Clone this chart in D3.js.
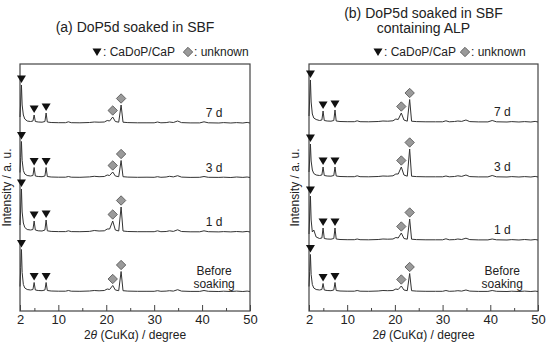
<!DOCTYPE html>
<html>
<head>
<meta charset="utf-8">
<script src="https://cdn.jsdelivr.net/npm/d3@7"></script>
<style>
  body { margin: 0; background: #fff; }
  text { font-family: "Liberation Sans", Arial, sans-serif; fill: #222; }
</style>
</head>
<body>
<div id="canvas"></div>
<script>
// 2theta grid shared by every pattern (degrees)
var twoTheta = [2.0, 2.15, 2.3, 2.45, 2.7, 3.0, 3.5, 4.2, 4.7, 4.95,
  5.2, 5.8, 6.6, 7.2, 7.45, 7.7, 8.5, 10.0, 11.5, 12.1,
  12.7, 14.5, 16.5, 17.5, 18.5, 19.6, 20.2, 20.7, 21.35, 21.9,
  22.6, 23.1, 23.5, 24.5, 26.5, 28.5, 30.0, 30.7, 31.4, 32.5,
  33.2, 34.0, 34.9, 35.7, 37.5, 39.5, 40.4, 41.3, 43.5, 44.5,
  46.0, 47.2, 48.5, 49.4, 50.0];

var samples = ['7 d', '3 d', '1 d', 'Before soaking'];

// vertical offsets of the stacked patterns (a. u.)
var offsetsA = [188, 133.5, 79, 19.5];
var offsetsB = [189, 134, 71, 19.5];

// (a) DoP5d soaked in SBF
var sbf7d = [6, 22, 38, 18, 8, 4, 2, 1.5, 2, 8,
  1.5, 1, 0.8, 1.5, 10, 1, 0.5, 0.3, 0.3, 1.2,
  0.3, 0.2, 0.5, 1, 0.8, 1, 2.5, 2, 6, 1.5,
  0.8, 18, 0.8, 0.4, 0.2, 0.2, 0.2, 1, 0.2, 0.4,
  1, 0.5, 2, 0.4, 0.1, 0.1, 1.2, 0.2, 0, 0.4,
  0, 0.4, 0, 0.6, 0];
var sbf3d = [5, 20, 36, 17, 7, 3.5, 2, 1.5, 2, 10,
  1.5, 1, 0.8, 1.5, 10, 1, 0.5, 0.3, 0.3, 1,
  0.3, 0.2, 0.6, 1.2, 0.8, 1, 2.5, 2, 5.5, 1.5,
  0.8, 17, 0.8, 0.4, 0.2, 0.3, 0.2, 0.8, 0.2, 0.5,
  1.2, 0.6, 1.8, 0.4, 0.1, 0.2, 1, 0.2, 0.1, 0.3,
  0, 0.5, 0.1, 0.5, 0];
var sbf1d = [7, 25, 43, 20, 9, 4.5, 2.5, 2, 2.5, 11,
  2, 1.2, 1, 2, 12, 1.2, 0.6, 0.4, 0.4, 1.2,
  0.4, 0.3, 0.6, 1.5, 1, 1.2, 3, 3, 11, 2,
  1, 25, 1, 0.5, 0.3, 0.3, 0.3, 1.2, 0.3, 0.5,
  1.2, 0.6, 2.2, 0.5, 0.2, 0.2, 1.2, 0.3, 0.1, 0.4,
  0.1, 0.5, 0.1, 0.6, 0];
var sbf0d = [5, 24, 42, 19, 7, 3.5, 2, 1.5, 2, 9,
  1.5, 1, 0.8, 1.5, 9, 1, 0.5, 0.3, 0.3, 1,
  0.3, 0.2, 0.5, 1, 0.7, 1, 2.5, 2, 6, 1.5,
  0.8, 20, 0.8, 0.4, 0.2, 0.2, 0.2, 0.8, 0.2, 0.4,
  0.8, 0.4, 1.8, 0.4, 0.1, 0.1, 1, 0.2, 0, 0.3,
  0, 0.4, 0, 0.4, 0];

// (b) DoP5d soaked in SBF containing ALP
var alp7d = [6, 24, 42, 20, 8, 4, 2.5, 1.5, 2, 11,
  1.5, 1, 0.8, 1.5, 12, 1, 0.5, 0.3, 0.3, 1.2,
  0.3, 0.2, 0.5, 1, 0.8, 1.2, 3, 2.5, 9, 2,
  0.8, 22.5, 0.8, 0.4, 0.2, 0.2, 0.2, 1.2, 0.2, 0.5,
  1, 0.6, 2, 0.4, 0.1, 0.1, 1.5, 0.2, 0, 0.4,
  0, 0.4, 0, 0.6, 0];
var alp3d = [5, 18, 33, 16, 7, 3.5, 2, 1.5, 2, 10,
  1.5, 1, 0.8, 1.5, 10, 1, 0.5, 0.3, 0.3, 1.2,
  0.3, 0.2, 0.5, 1, 0.8, 1.2, 3, 3, 10, 2,
  0.8, 28, 0.8, 0.4, 0.2, 0.2, 0.2, 1, 0.2, 0.5,
  1.2, 0.6, 2, 0.4, 0.1, 0.1, 1.5, 0.2, 0, 0.4,
  0, 0.4, 0, 0.6, 0];
var alp1d = [6, 25, 44, 20, 8, 10, 3, 1.5, 2, 12,
  1.5, 1, 0.8, 1.5, 12, 1, 0.5, 0.3, 0.3, 1,
  0.3, 0.2, 0.5, 1, 0.8, 1, 2.5, 2, 7, 1.5,
  0.8, 21, 0.8, 0.4, 0.2, 0.2, 0.2, 1.2, 0.2, 0.4,
  1, 0.5, 1.8, 0.4, 0.1, 0.1, 1, 0.2, 0, 0.4,
  0, 0.5, 0, 0.5, 0];
var alp0d = [5, 20, 37, 17, 7, 3.5, 2, 1.5, 2, 8,
  1.5, 1, 0.8, 1.5, 9, 1, 0.5, 0.3, 0.3, 1,
  0.3, 0.2, 0.5, 1, 0.8, 1, 2.5, 2, 5.5, 1.5,
  0.8, 18, 0.8, 0.4, 0.2, 0.2, 0.2, 1, 0.2, 0.4,
  0.8, 0.4, 1.5, 0.4, 0.1, 0.1, 1, 0.2, 0, 0.3,
  0, 0.4, 0, 0.4, 0];

// peak assignments (2theta)
var cadopPeaks = [2.3, 4.95, 7.45];
var unknownPeaks = [21.35, 23.1];

var xTicks = [2, 10, 20, 30, 40, 50];
var xMinorTicks = [5, 15, 25, 35, 45];

var W = 550, H = 346;
var svg = d3.select('#canvas').append('svg')
  .attr('width', W).attr('height', H);

var panels = [
  {left: 20, right: 250, title: ['(a) DoP5d soaked in SBF'], titleY: [32],
   series: [sbf7d, sbf3d, sbf1d, sbf0d], offsets: offsetsA, ylabX: 11,
   leg: {tri: 97, t1: 103, dia: 188, t2: 194}},
  {left: 309, right: 538, title: ['(b) DoP5d soaked in SBF', 'containing ALP'], titleY: [18, 33],
   series: [alp7d, alp3d, alp1d, alp0d], offsets: offsetsB, ylabX: 299,
   leg: {tri: 378, t1: 384, dia: 465, t2: 471}}
];

var plotTop = 64, plotBottom = 311;
var triPath = 'M-4.5,-7.5L4.5,-7.5L0,0Z';
var diamond = d3.symbol(d3.symbolSquare, 44)();

panels.forEach(function(p) {
  var x = d3.scaleLinear().domain([2, 50]).range([p.left, p.right]);
  var y = d3.scaleLinear().domain([0, 247]).range([plotBottom, plotTop]);
  var g = svg.append('g');

  // titles
  p.title.forEach(function(t, i) {
    g.append('text').attr('x', (p.left + p.right) / 2).attr('y', p.titleY[i])
      .attr('text-anchor', 'middle').style('font-size', '14px').text(t);
  });

  // legend
  var ly = 52;
  g.append('path').attr('d', triPath).attr('transform', 'translate(' + p.leg.tri + ',' + (ly + 4) + ')')
    .attr('fill', '#111');
  g.append('text').attr('x', p.leg.t1).attr('y', ly + 4).style('font-size', '12px').text(': CaDoP/CaP');
  g.append('path').attr('d', diamond)
    .attr('transform', 'translate(' + p.leg.dia + ',' + ly + ') rotate(45)')
    .attr('fill', '#9a9a9a').attr('stroke', '#555').attr('stroke-width', 0.8);
  g.append('text').attr('x', p.leg.t2).attr('y', ly + 4).style('font-size', '12px').text(': unknown');

  // frame
  g.append('rect').attr('x', p.left).attr('y', plotTop)
    .attr('width', p.right - p.left).attr('height', plotBottom - plotTop)
    .attr('fill', 'none').attr('stroke', '#444').attr('stroke-width', 1.2);

  // x axis (ticks pointing inward)
  var ax = g.append('g').attr('transform', 'translate(0,' + plotBottom + ')')
    .call(d3.axisBottom(x).tickValues(xTicks).tickSizeInner(-6).tickSizeOuter(0).tickPadding(4));
  ax.select('.domain').remove();
  ax.selectAll('line').attr('stroke', '#444');
  ax.selectAll('text').style('font-size', '13px').style('font-family', '"Liberation Sans", Arial, sans-serif').attr('fill', '#222');
  var axm = g.append('g').attr('transform', 'translate(0,' + plotBottom + ')')
    .call(d3.axisBottom(x).tickValues(xMinorTicks).tickSizeInner(-3).tickSizeOuter(0).tickFormat(''));
  axm.select('.domain').remove();
  axm.selectAll('line').attr('stroke', '#444');

  // axis titles
  var xl = g.append('text').attr('x', (p.left + p.right) / 2).attr('y', 339)
    .attr('text-anchor', 'middle').style('font-size', '12px');
  xl.append('tspan').text('2');
  xl.append('tspan').style('font-style', 'italic').text('\u03b8');
  xl.append('tspan').text(' (CuK\u03b1) / degree');

  g.append('text').attr('transform', 'translate(' + p.ylabX + ',' + ((plotTop + plotBottom) / 2) + ') rotate(-90)')
    .attr('text-anchor', 'middle').style('font-size', '12px').text('Intensity / a. u.');

  // patterns
  p.series.forEach(function(vals, si) {
    var off = p.offsets[si];
    var pts = twoTheta.map(function(t, i) { return [t, vals[i] + off]; });
    var line = d3.line().x(function(d) { return x(d[0]); }).y(function(d) { return y(d[1]); });
    g.append('path').datum(pts).attr('d', line)
      .attr('fill', 'none').attr('stroke', '#333').attr('stroke-width', 1);

    function peakY(t) { return y(vals[twoTheta.indexOf(t)] + off); }

    cadopPeaks.forEach(function(t) {
      g.append('path').attr('d', triPath)
        .attr('transform', 'translate(' + x(t) + ',' + (peakY(t) - 2) + ')')
        .attr('fill', '#111');
    });
    unknownPeaks.forEach(function(t) {
      g.append('path').attr('d', diamond)
        .attr('transform', 'translate(' + x(t) + ',' + (peakY(t) - 6.5) + ') rotate(45)')
        .attr('fill', '#9a9a9a').attr('stroke', '#555').attr('stroke-width', 0.8);
    });

    // sample label
    var lx = x(42.5);
    var name = samples[si];
    if (name === 'Before soaking') {
      g.append('text').attr('x', lx).attr('y', y(off) - 17).attr('text-anchor', 'middle')
        .style('font-size', '12px').text('Before');
      g.append('text').attr('x', lx).attr('y', y(off) - 4).attr('text-anchor', 'middle')
        .style('font-size', '12px').text('soaking');
    } else {
      g.append('text').attr('x', lx).attr('y', y(off) - 6).attr('text-anchor', 'middle')
        .style('font-size', '12px').text(name);
    }
  });
});
</script>
</body>
</html>
